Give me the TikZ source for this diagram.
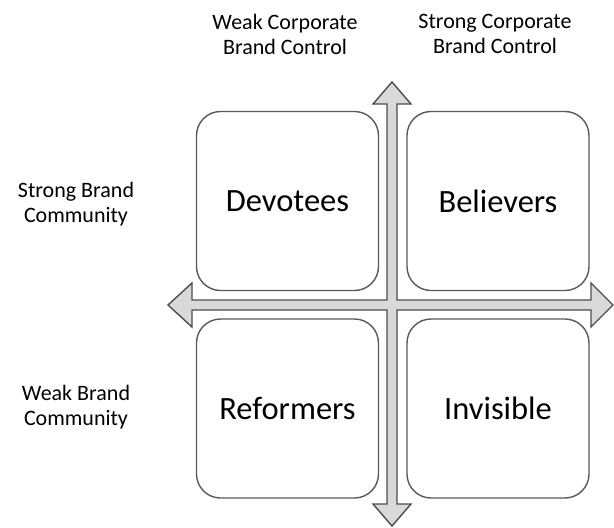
\documentclass[tikz,border=0pt]{standalone}
\usepackage{fontspec}
\setmainfont{Carlito}
\usepackage{tikz}
\usetikzlibrary{positioning}
\usepackage{xcolor}

\definecolor{boxline}{HTML}{5A5A5A}
\definecolor{arrowline}{HTML}{4D4D4D}
\definecolor{arrowfill}{HTML}{D9D9D9}

\newcommand{\quadfont}{\fontsize{32.5}{38}\selectfont}
\newcommand{\labelfont}{\fontsize{22}{25}\selectfont}

\begin{document}
\begin{tikzpicture}[
    x=1pt, y=-1pt,
    quad/.style={rectangle, rounded corners=24pt, draw=boxline, line width=1.4pt, fill=white, minimum width=182pt, minimum height=179pt, align=center, font=\quadfont},
    axislabel/.style={align=center, font=\labelfont},
    axis/.style={draw=arrowline, fill=arrowfill, line width=1.4pt, line join=miter}
]
\useasboundingbox (0,0) rectangle (614,528);

% the cross of two double arrows
\draw[axis] (392,82) -- (411,104) -- (397,104) -- (397,300) -- (591,300) -- (591,283)
    -- (613,305) -- (591,327) -- (591,310) -- (397,310) -- (397,504) -- (411,504)
    -- (392,526) -- (373,504) -- (387,504) -- (387,310) -- (192,310) -- (192,327)
    -- (168,305) -- (192,283) -- (192,300) -- (387,300) -- (387,104) -- (373,104) -- cycle;

\node[quad] (devotees) at (287.5,201) {Devotees};
\node[quad] (believers) at (498,201) {Believers};
\node[quad] (reformers) at (287.5,408.5) {Reformers};
\node[quad] (invisible) at (498,408.5) {Invisible};

\node[axislabel] (weakcorp) at (285,34) {Weak Corporate\\Brand Control};
\node[axislabel] (strongcorp) at (495,34) {Strong Corporate\\Brand Control};
\node[axislabel] (strongcomm) at (76,204) {Strong Brand\\Community};
\node[axislabel] (weakcomm) at (76,407) {Weak Brand\\Community};
\end{tikzpicture}
\end{document}
